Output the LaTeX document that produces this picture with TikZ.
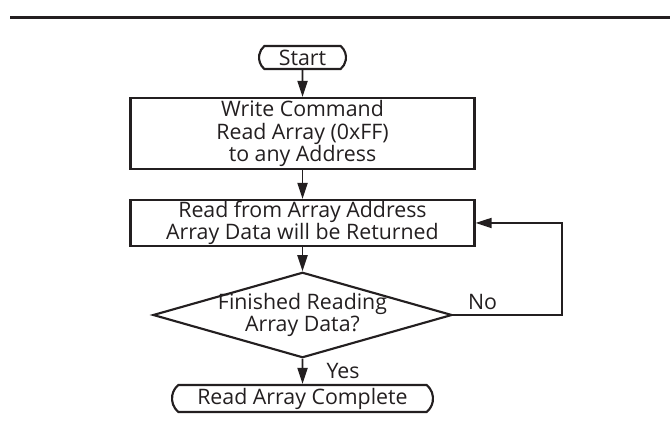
\documentclass[tikz,border=0pt]{standalone}
\usepackage{fontspec}
\setmainfont{Open Sans}
\usetikzlibrary{arrows.meta, shapes.geometric, shapes.misc}

\definecolor{ink}{RGB}{35,31,32}

\begin{document}
\begin{tikzpicture}[
  x=0.75pt, y=-0.75pt,
  term/.style={rounded rectangle, rounded rectangle arc length=100, draw=ink, line width=1.6pt, inner sep=0pt, minimum height=17.25pt, text=ink},
  proc/.style={rectangle, draw=ink, line width=1.6pt, inner sep=0pt, minimum width=258pt, align=center, text=ink},
  test/.style={diamond, draw=ink, line width=1.6pt, inner sep=-2pt, aspect=3.5, minimum width=212.25pt, minimum height=60pt, align=center, text=ink},
  flow/.style={->, draw=ink, line width=1.4pt},
  >={Triangle[length=12pt, width=7.5pt]},
  font=\fontsize{16}{17}\selectfont
]
  \useasboundingbox (0,0) rectangle (670,423);
  % rule across the top
  \draw[ink, line width=2.6pt] (10,17.5) -- (670,17.5);

  \node[term, minimum width=65.25pt] (start) at (302.5,57.5) {Start};
  \node[proc, minimum height=53.25pt] (cmd) at (302.5,133.5) {Write Command\\Read Array (0xFF)\\to any Address};
  \node[proc, minimum height=34.5pt] (read) at (302.5,223) {Read from Array Address\\Array Data will be Returned};
  \node[test] (check) at (302.5,315) {Finished Reading\\Array Data?};
  \node[term, minimum width=195.75pt, minimum height=20.25pt] (done) at (302.5,398.5) {Read Array Complete};
  \coordinate (back) at (562,315);

  \draw[flow] (start) -- (cmd);
  \draw[flow] (cmd) -- (read);
  \draw[flow] (read) -- (check);
  \draw[flow] (check) -- node[right, xshift=14pt, text=ink] {Yes} (done);
  % loop back while data remains
  \draw[flow] (check.east) -- node[above, pos=0.27, text=ink] {No} (back) |- (read.east);
\end{tikzpicture}
\end{document}
